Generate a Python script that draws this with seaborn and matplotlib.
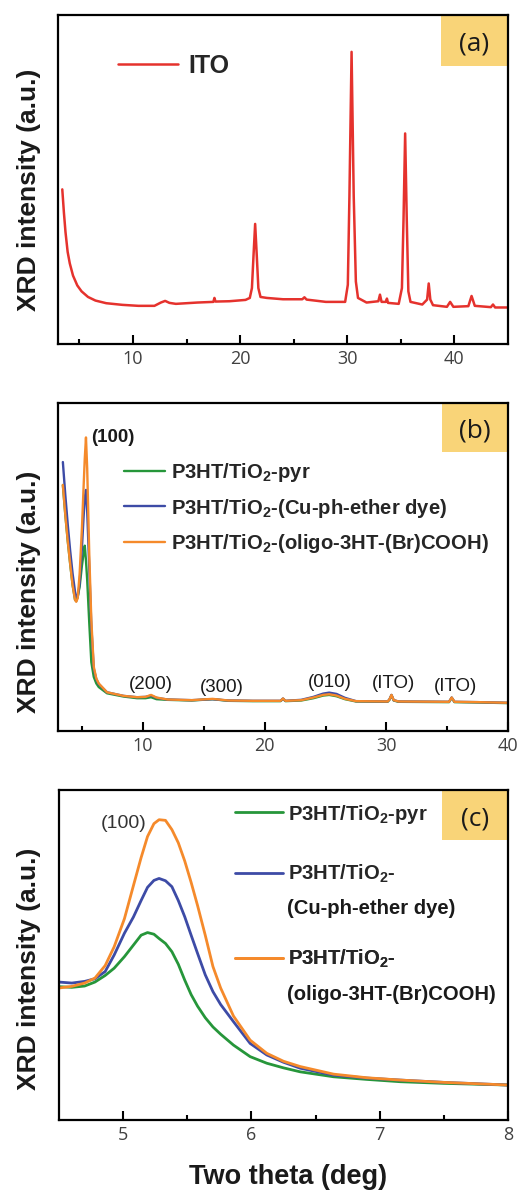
import matplotlib
matplotlib.use("Agg")
import matplotlib.pyplot as plt
import seaborn as sns
import pandas as pd
from matplotlib.patches import Rectangle

# ---------------- data ----------------
# (a) ITO
a_x = [3.4, 3.55, 3.7, 3.9, 4.1, 4.4, 4.8, 5.2, 5.8, 6.5, 7.5, 9.0, 10.5, 12.0, 12.6, 13.0,
       13.4, 14.0, 16.0, 17.5, 17.6, 17.7, 19.0, 20.5, 20.9, 21.1, 21.25, 21.4, 21.55, 21.7,
       21.9, 22.5, 24.0, 25.8, 26.0, 26.2, 28.0, 29.8, 30.05, 30.2, 30.4, 30.6, 30.8, 31.0,
       31.8, 32.9, 33.05, 33.2, 33.6, 33.7, 33.8, 34.8, 35.1, 35.25, 35.4, 35.55, 35.7, 35.9,
       37.0, 37.45, 37.6, 37.75, 38.0, 39.3, 39.6, 39.9, 41.3, 41.6, 41.9, 43.4, 43.6, 43.8, 45.0]
a_y = [47.0, 40.0, 34.0, 28.0, 24.5, 20.8, 17.8, 16.0, 14.3, 13.2, 12.4, 11.9, 11.6, 11.6, 12.6, 13.1,
       12.5, 12.2, 12.6, 12.8, 14.0, 12.9, 13.0, 13.4, 14.0, 17.0, 27.0, 36.5, 27.0, 17.0,
       14.3, 14.0, 13.6, 13.6, 14.2, 13.5, 12.8, 12.8, 18.0, 45.0, 88.8, 45.0, 19.0, 14.0,
       12.6, 13.0, 15.0, 12.8, 12.8, 13.8, 12.5, 12.2, 17.0, 38.0, 64.0, 38.0, 16.0, 12.8,
       12.0, 13.5, 18.4, 13.5, 11.8, 11.3, 12.8, 11.3, 11.5, 14.6, 11.6, 11.2, 12.0, 11.1, 11.1]

# (b) wide scan
b_x = [3.4, 3.6, 3.8, 4.0, 4.2, 4.4, 4.5, 4.62, 4.78, 4.97, 5.1, 5.2, 5.3, 5.4, 5.57, 5.74,
       5.94, 6.15, 6.35, 7.03, 8.4, 9.5, 10.2, 10.65, 11.1, 12.0, 14.0, 15.7, 17.0, 19.0,
       21.3, 21.5, 21.7, 23.0, 24.0, 24.8, 25.3, 25.9, 26.6, 27.5, 30.1, 30.25, 30.42, 30.6,
       31.0, 35.15, 35.37, 35.6, 37.5, 40.0]
b_pyr = [75.0, 66.0, 58.0, 51.0, 44.5, 40.0, 39.6, 41.0, 44.0, 50.5, 54.0, 56.5, 52.0, 46.0, 33.0, 21.0,
         16.5, 14.5, 13.4, 11.5, 10.5, 10.0, 10.0, 10.3, 9.7, 9.5, 9.3, 9.7, 9.2, 9.1,
         9.1, 9.8, 9.1, 9.3, 10.0, 10.8, 11.0, 10.6, 9.7, 9.0, 8.9, 9.5, 10.9, 9.3,
         8.9, 8.8, 10.1, 8.8, 8.7, 8.5]
b_cu = [82.0, 72.0, 63.0, 55.0, 48.0, 42.5, 41.0, 40.8, 45.0, 56.0, 65.0, 71.0, 73.5, 67.0, 50.0, 32.0,
        19.0, 15.8, 14.3, 11.8, 10.7, 10.3, 10.4, 10.8, 10.1, 9.6, 9.4, 9.7, 9.3, 9.2,
        9.2, 9.9, 9.2, 9.5, 10.4, 11.4, 11.7, 11.3, 10.1, 9.1, 9.0, 9.6, 11.0, 9.4,
        9.0, 8.9, 10.2, 8.9, 8.8, 8.6]
b_oligo = [75.0, 66.0, 58.0, 51.0, 44.5, 40.0, 39.4, 40.5, 48.0, 62.0, 74.0, 83.0, 89.5, 80.0, 54.0, 33.8,
           19.6, 16.0, 14.5, 11.8, 10.7, 10.3, 10.4, 11.0, 10.2, 9.6, 9.4, 9.8, 9.3, 9.2,
           9.2, 9.9, 9.2, 9.4, 10.2, 11.0, 11.2, 10.8, 9.8, 9.1, 9.0, 9.6, 11.0, 9.4,
           9.0, 8.9, 10.2, 8.9, 8.8, 8.6]

# (c) (100) peak zoom
c_x = [4.50, 4.60, 4.70, 4.78, 4.86, 4.93, 5.01, 5.08, 5.14, 5.19, 5.24, 5.28, 5.33, 5.38,
       5.43, 5.48, 5.53, 5.58, 5.64, 5.70, 5.76, 5.86, 5.99, 6.12, 6.25, 6.38, 6.64, 6.90,
       7.16, 7.50, 8.00]
c_pyr = [40.4, 40.2, 40.6, 41.8, 43.8, 46.0, 49.5, 53.0, 56.0, 56.8, 56.3, 55.0, 53.5, 51.0,
         47.2, 42.4, 38.0, 34.5, 31.0, 28.2, 26.0, 22.7, 19.2, 17.2, 15.8, 14.6, 13.1, 12.3,
         11.6, 11.1, 10.6]
c_cu = [41.8, 41.5, 42.0, 42.8, 45.0, 50.0, 56.6, 61.5, 66.5, 70.5, 72.6, 73.2, 72.5, 70.7,
        66.5, 61.6, 56.0, 50.5, 44.0, 38.9, 35.0, 29.8, 23.2, 19.7, 17.5, 15.7, 13.6, 12.7,
        12.1, 11.4, 10.6]
c_oligo = [40.0, 40.5, 41.5, 43.0, 46.8, 52.5, 61.0, 71.0, 79.5, 85.9, 89.8, 91.0, 90.8, 88.0,
           84.0, 78.5, 72.0, 65.0, 56.0, 46.5, 40.0, 31.5, 24.2, 20.2, 17.8, 16.2, 13.9, 12.8,
           12.1, 11.4, 10.6]

a_ticks = [10, 20, 30, 40]
a_minor = [5, 15, 25, 35]
b_ticks = [10, 20, 30, 40]
b_minor = [5, 15, 25, 35]
c_ticks = [5, 6, 7, 8]
c_minor = [5.5, 6.5, 7.5]

lab_pyr = r"P3HT/TiO$_2$-pyr"
lab_cu = r"P3HT/TiO$_2$-(Cu-ph-ether dye)"
lab_oligo = r"P3HT/TiO$_2$-(oligo-3HT-(Br)COOH)"
lab_c_first = r"P3HT/TiO$_2$-"
lab_c_cu2 = "(Cu-ph-ether dye)"
lab_c_oligo2 = "(oligo-3HT-(Br)COOH)"

b_peaks = ["(200)", "(300)", "(010)", "(ITO)", "(ITO)"]
b_peak_x = [10.66, 16.43, 25.33, 30.61, 35.72]
b_peak_y = [14.3, 13.4, 14.9, 14.6, 13.7]

RED = "#E5322D"
GREEN = "#26963A"
BLUE = "#3D4BA6"
ORANGE = "#F58A2B"
YELLOW = "#F9D478"

# ---------------- style ----------------
sns.set_theme(style="white")
plt.rcParams['font.family'] = ['Liberation Sans', 'DejaVu Sans']
plt.rcParams['mathtext.fontset'] = 'custom'
plt.rcParams['mathtext.rm'] = 'Liberation Sans'
plt.rcParams['mathtext.bf'] = 'Liberation Sans:bold'
plt.rcParams['mathtext.default'] = 'bf'

fig = plt.figure(figsize=(5.2, 11.92), dpi=100)
W, H = 520.0, 1192.0


def rect(l, t, r, b):
    return [l / W, 1 - b / H, (r - l) / W, (b - t) / H]


ax_a = fig.add_axes(rect(58, 15, 508, 344))
ax_b = fig.add_axes(rect(58, 403, 508, 731))
ax_c = fig.add_axes(rect(59, 790, 508, 1120))


def style_axes(ax, xlim, ticks, minor):
    ax.set_xlim(*xlim)
    ax.set_ylim(0, 100)
    ax.set_yticks([])
    ax.set_xticks(ticks)
    ax.set_xticklabels([str(t) for t in ticks])
    ax.set_xticks(minor, minor=True)
    ax.tick_params(axis='x', which='both', direction='in', bottom=True, top=False,
                   color='black', width=1.5)
    ax.tick_params(axis='x', which='major', length=6.5, pad=4.5, labelsize=13,
                   labelcolor='#404040', labelfontfamily='Open Sans')
    ax.tick_params(axis='x', which='minor', length=3.5)
    for s in ax.spines.values():
        s.set_visible(True)
        s.set_linewidth(1.6)
        s.set_color('black')
    ax.set_xlabel('')
    ax.set_ylabel('')


def panel_label(ax, text, x0, y0):
    ax.add_patch(Rectangle((x0, y0), 1 - x0, 1 - y0, transform=ax.transAxes,
                           facecolor=YELLOW, edgecolor='none', zorder=1.5, clip_on=False))
    ax.text((x0 + 1) / 2, (y0 + 1) / 2 - 0.012, text, transform=ax.transAxes,
            ha='center', va='center', fontsize=19, family='Open Sans', color='#1a1a1a', zorder=4)


LEGFONT = dict(family='Liberation Sans', weight='bold', size=14.6)

# ---------------- (a) ----------------
sns.lineplot(x=a_x, y=a_y, ax=ax_a, color=RED, linewidth=1.8, sort=False,
             errorbar=None, label="ITO", legend=False)
style_axes(ax_a, (3, 45), a_ticks, a_minor)
h, l = ax_a.get_legend_handles_labels()
ax_a.legend(h, l, loc='center left', bbox_to_anchor=((118 - 58) / 450, (344 - 66) / 329),
            frameon=False, borderpad=0, borderaxespad=0, handlelength=2.4, handletextpad=0.4,
            prop=dict(family='Liberation Sans', weight='bold', size=18))
panel_label(ax_a, "(a)", 0.851, 0.845)

# ---------------- (b) ----------------
sns.lineplot(x=b_x, y=b_pyr, ax=ax_b, color=GREEN, linewidth=1.7, sort=False,
             errorbar=None, label=lab_pyr, legend=False)
sns.lineplot(x=b_x, y=b_cu, ax=ax_b, color=BLUE, linewidth=1.7, sort=False,
             errorbar=None, label=lab_cu, legend=False)
sns.lineplot(x=b_x, y=b_oligo, ax=ax_b, color=ORANGE, linewidth=1.7, sort=False,
             errorbar=None, label=lab_oligo, legend=False)
style_axes(ax_b, (3, 40), b_ticks, b_minor)
h, l = ax_b.get_legend_handles_labels()
ax_b.legend(h, l, loc='center left', bbox_to_anchor=((124 - 58) / 450, (731 - 508) / 328),
            frameon=False, borderpad=0, borderaxespad=0, handlelength=2.0, handletextpad=0.3,
            labelspacing=0.62, prop=LEGFONT)
ax_b.text(5.71, 89.6, "(100)", ha='left', va='center', fontsize=13.5, fontweight='bold',
          color='#1a1a1a')
for t, xx, yy in zip(b_peaks, b_peak_x, b_peak_y):
    ax_b.text(xx, yy, t, ha='center', va='center', fontsize=13.5, color='#1a1a1a')
panel_label(ax_b, "(b)", 0.853, 0.851)

# ---------------- (c) ----------------
sns.lineplot(x=c_x, y=c_pyr, ax=ax_c, color=GREEN, linewidth=2.0, sort=False,
             errorbar=None, label=lab_pyr, legend=False)
sns.lineplot(x=c_x, y=c_cu, ax=ax_c, color=BLUE, linewidth=2.0, sort=False,
             errorbar=None, label=lab_c_first, legend=False)
sns.lineplot(x=c_x, y=c_oligo, ax=ax_c, color=ORANGE, linewidth=2.0, sort=False,
             errorbar=None, label=lab_c_first, legend=False)
style_axes(ax_c, (4.5, 8), c_ticks, c_minor)
panel_label(ax_c, "(c)", 0.853, 0.848)
h, l = ax_c.get_legend_handles_labels()
legx = (235 - 59) / 449
row_y = [(1120 - 814) / 330, (1120 - 874) / 330, (1120 - 959) / 330]
for i in range(3):
    leg = ax_c.legend([h[i]], [l[i]], loc='center left', bbox_to_anchor=(legx, row_y[i]),
                      frameon=False, borderpad=0, borderaxespad=0, handlelength=2.35,
                      handletextpad=0.24, prop=LEGFONT)
    ax_c.add_artist(leg)
textx = (287 - 59) / 449
ax_c.text(textx, (1120 - 909) / 330, lab_c_cu2, transform=ax_c.transAxes, ha='left', va='center',
          fontsize=14.6, fontweight='bold', color='#1a1a1a')
ax_c.text(textx, (1120 - 994) / 330, lab_c_oligo2, transform=ax_c.transAxes, ha='left', va='center',
          fontsize=14.6, fontweight='bold', color='#1a1a1a')
ax_c.text(5.007, 90, "(100)", ha='center', va='center', fontsize=14, color='#333333')

# ---------------- axis titles ----------------
for yc in [190, 591.5, 969]:
    fig.text(29.5 / W, 1 - yc / H, "XRD intensity (a.u.)", rotation=90, ha='center', va='center',
             fontsize=19, fontweight='bold', color='#1a1a1a')
fig.text(288 / W, 1 - 1177 / H, "Two theta (deg)", ha='center', va='center',
         fontsize=19.5, fontweight='bold', color='#1a1a1a')

fig.savefig("out.png", dpi=100)
